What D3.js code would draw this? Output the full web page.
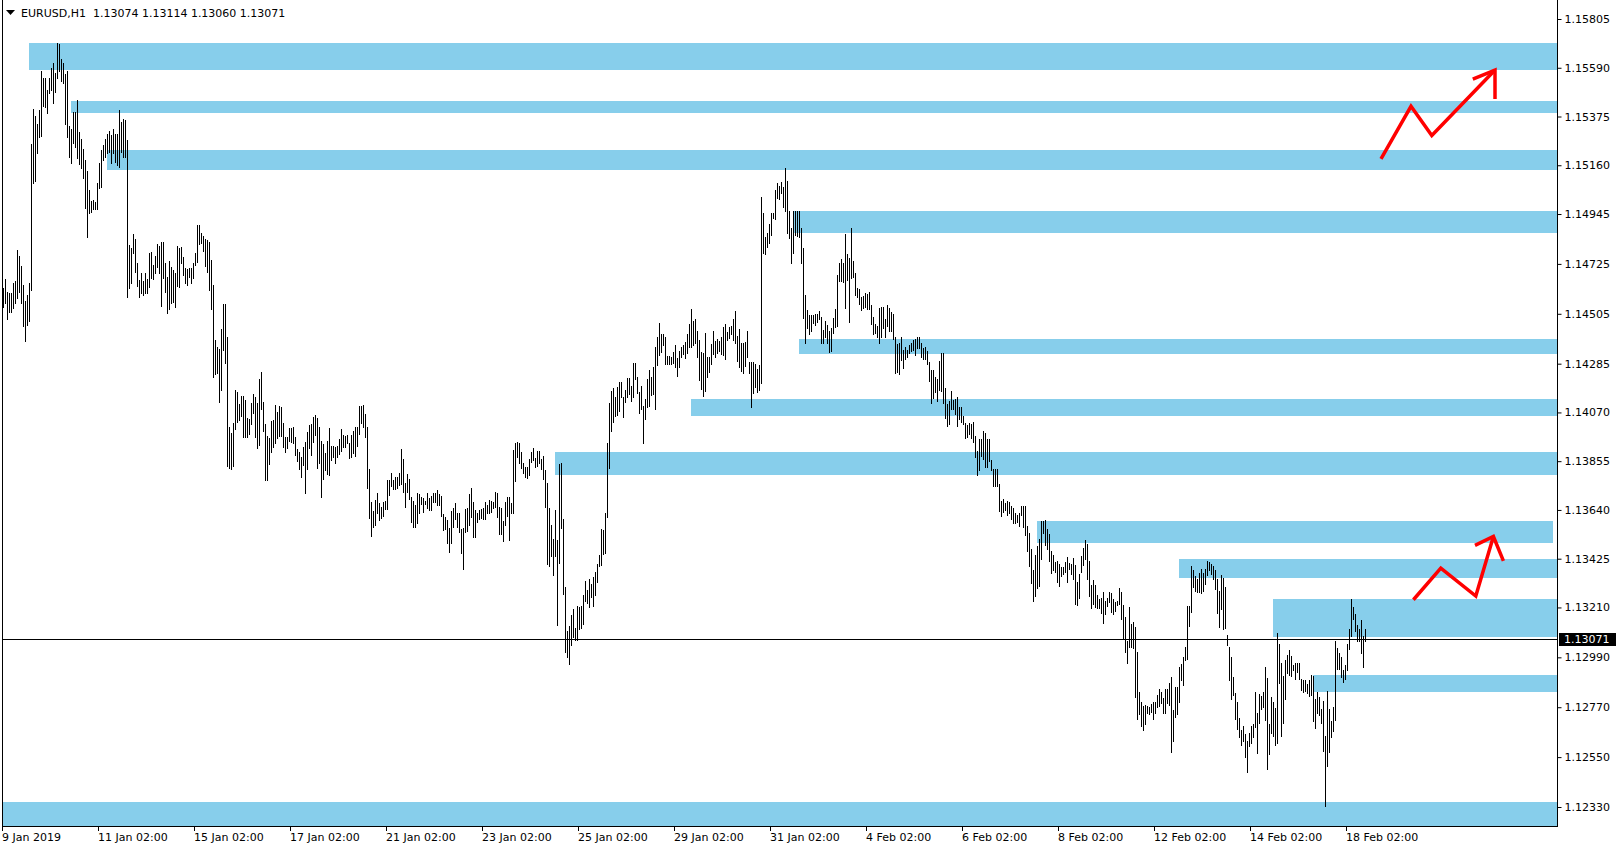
<!DOCTYPE html>
<html><head><meta charset="utf-8">
<script src="https://cdnjs.cloudflare.com/ajax/libs/d3/7.8.5/d3.min.js"></script>
<style>
html,body{margin:0;padding:0;background:#fff;}
svg{display:block;}
text{font-family:"DejaVu Sans",Verdana,sans-serif;font-size:11px;fill:#000;}
</style>
</head><body>
<svg id="chart" width="1621" height="850"></svg>
<script>
// ---------- data ----------
const symbolTitle = "EURUSD,H1";
const headerQuote = ["1.13074", "1.13114", "1.13060", "1.13071"];
const lastPrice = 1.13071;

const priceTicks = [1.15805, 1.15590, 1.15375, 1.15160, 1.14945, 1.14725, 1.14505, 1.14285,
  1.14070, 1.13855, 1.13640, 1.13425, 1.13210, 1.12990, 1.12770, 1.12550, 1.12330];

const timeTickIndex = [0, 48, 96, 144, 192, 240, 288, 336, 384, 432, 480, 528, 576, 624, 672];
const timeTickLabels = ["9 Jan 2019", "11 Jan 02:00", "15 Jan 02:00", "17 Jan 02:00", "21 Jan 02:00",
  "23 Jan 02:00", "25 Jan 02:00", "29 Jan 02:00", "31 Jan 02:00", "4 Feb 02:00", "6 Feb 02:00",
  "8 Feb 02:00", "12 Feb 02:00", "14 Feb 02:00", "18 Feb 02:00"];

// hourly bar highs / lows (one per H1 bar, oldest first)
const highs = [
1.14617,1.14657,1.14602,1.14595,1.14595,1.14639,1.14651,1.14786,1.14759,1.14715,
1.14632,1.14562,1.14587,1.14639,1.15253,1.15406,1.15377,1.15344,1.15403,1.15577,
1.15543,1.15547,1.15491,1.15547,1.15587,1.15609,1.15565,1.15697,1.15694,1.15627,
1.15609,1.15562,1.15577,1.15333,1.15322,1.15396,1.15396,1.15450,1.15308,1.15274,
1.15230,1.15183,1.15134,1.15053,1.15003,1.15009,1.14999,1.15080,1.15168,1.15227,
1.15249,1.15278,1.15300,1.15312,1.15293,1.15318,1.15300,1.15297,1.15403,1.15352,
1.15362,1.15359,1.15271,1.14808,1.14793,1.14856,1.14837,1.14727,1.14654,1.14687,
1.14651,1.14683,1.14657,1.14771,1.14777,1.14720,1.14759,1.14812,1.14804,1.14823,
1.14823,1.14730,1.14668,1.14739,1.14712,1.14698,1.14683,1.14804,1.14793,1.14798,
1.14756,1.14705,1.14701,1.14705,1.14709,1.14730,1.14774,1.14896,1.14896,1.14862,
1.14848,1.14833,1.14830,1.14823,1.14742,1.14632,1.14389,1.14360,1.14348,1.14436,
1.14548,1.14548,1.14404,1.14007,1.13980,1.14024,1.14171,1.14161,1.14107,1.14142,
1.14142,1.14124,1.14044,1.14039,1.14113,1.14151,1.14139,1.14110,1.14216,1.14250,
1.14117,1.14019,1.13966,1.13956,1.14034,1.14037,1.14103,1.14073,1.14098,1.14095,
1.14022,1.13963,1.13960,1.14000,1.14000,1.14004,1.13960,1.13907,1.13897,1.13875,
1.13919,1.13941,1.13985,1.14015,1.14019,1.14051,1.14059,1.14044,1.14007,1.13945,
1.13931,1.13890,1.13945,1.14000,1.13922,1.13922,1.13919,1.13922,1.13951,1.13995,
1.13970,1.13966,1.13970,1.13934,1.13970,1.13990,1.14007,1.14007,1.14098,1.14098,
1.14103,1.14063,1.14004,1.13819,1.13676,1.13637,1.13684,1.13716,1.13672,1.13654,
1.13676,1.13681,1.13772,1.13772,1.13801,1.13772,1.13784,1.13787,1.13801,1.13907,
1.13863,1.13757,1.13798,1.13775,1.13698,1.13681,1.13662,1.13713,1.13710,1.13698,
1.13691,1.13681,1.13713,1.13691,1.13701,1.13713,1.13716,1.13728,1.13710,1.13701,
1.13622,1.13610,1.13596,1.13559,1.13637,1.13647,1.13672,1.13628,1.13625,1.13554,
1.13559,1.13643,1.13647,1.13710,1.13735,1.13676,1.13640,1.13628,1.13640,1.13643,
1.13647,1.13676,1.13662,1.13684,1.13681,1.13676,1.13721,1.13716,1.13654,1.13647,
1.13593,1.13676,1.13696,1.13698,1.13672,1.13904,1.13934,1.13941,1.13934,1.13897,
1.13848,1.13831,1.13828,1.13863,1.13897,1.13912,1.13868,1.13901,1.13901,1.13863,
1.13878,1.13816,1.13760,1.13647,1.13573,1.13510,1.13639,1.13507,1.13842,1.13845,
1.13598,1.13298,1.13107,1.13128,1.13176,1.13201,1.13118,1.13216,1.13210,1.13216,
1.13265,1.13328,1.13287,1.13334,1.13313,1.13345,1.13368,1.13401,1.13441,1.13554,
1.13551,1.13628,1.13933,1.14110,1.14166,1.14176,1.14139,1.14180,1.14205,1.14205,
1.14139,1.14169,1.14220,1.14220,1.14186,1.14286,1.14286,1.14225,1.14161,1.14186,
1.14098,1.14128,1.14216,1.14257,1.14225,1.14272,1.14360,1.14404,1.14463,1.14416,
1.14416,1.14404,1.14319,1.14319,1.14316,1.14338,1.14367,1.14308,1.14342,1.14357,
1.14367,1.14382,1.14416,1.14460,1.14524,1.14474,1.14480,1.14430,1.14389,1.14338,
1.14330,1.14422,1.14316,1.14316,1.14372,1.14430,1.14386,1.14392,1.14386,1.14404,
1.14448,1.14460,1.14426,1.14445,1.14451,1.14480,1.14519,1.14407,1.14436,1.14377,
1.14374,1.14382,1.14430,1.14294,1.14294,1.14294,1.14283,1.14260,1.14279,1.15021,
1.14951,1.14845,1.14863,1.14901,1.14951,1.14951,1.15051,1.15083,1.15068,1.15087,
1.15062,1.15146,1.15092,1.14960,1.14882,1.14960,1.14960,1.14960,1.14960,1.14882,
1.14793,1.14588,1.14521,1.14499,1.14499,1.14499,1.14504,1.14504,1.14519,1.14490,
1.14434,1.14475,1.14456,1.14431,1.14441,1.14485,1.14525,1.14676,1.14731,1.14746,
1.14728,1.14857,1.14769,1.14750,1.14882,1.14740,1.14687,1.14618,1.14613,1.14581,
1.14584,1.14596,1.14593,1.14603,1.14544,1.14490,1.14460,1.14449,1.14529,1.14534,
1.14534,1.14481,1.14544,1.14529,1.14515,1.14504,1.14402,1.14372,1.14378,1.14402,
1.14346,1.14360,1.14346,1.14368,1.14378,1.14390,1.14393,1.14402,1.14402,1.14375,
1.14353,1.14360,1.14343,1.14294,1.14255,1.14257,1.14228,1.14216,1.14299,1.14331,
1.14334,1.14177,1.14108,1.14122,1.14166,1.14125,1.14128,1.14137,1.14093,1.14093,
1.14055,1.14025,1.14015,1.14022,1.14019,1.14030,1.13966,1.13902,1.13952,1.13952,
1.13990,1.13978,1.13952,1.13952,1.13861,1.13819,1.13819,1.13819,1.13755,1.13681,
1.13687,1.13672,1.13681,1.13677,1.13658,1.13647,1.13625,1.13618,1.13625,1.13658,
1.13658,1.13658,1.13570,1.13540,1.13467,1.13373,1.13442,1.13481,1.13511,1.13593,
1.13593,1.13596,1.13555,1.13534,1.13461,1.13442,1.13412,1.13417,1.13402,1.13390,
1.13387,1.13412,1.13431,1.13405,1.13402,1.13427,1.13398,1.13324,1.13358,1.13437,
1.13471,1.13508,1.13490,1.13417,1.13309,1.13329,1.13309,1.13265,1.13246,1.13251,
1.13280,1.13240,1.13251,1.13276,1.13273,1.13246,1.13232,1.13240,1.13295,1.13276,
1.13221,1.13167,1.13060,1.13211,1.13137,1.13148,1.13123,1.13015,1.12835,1.12791,
1.12776,1.12780,1.12776,1.12773,1.12785,1.12795,1.12791,1.12824,1.12849,1.12835,
1.12810,1.12849,1.12849,1.12879,1.12905,1.12758,1.12861,1.12861,1.12949,1.12961,
1.12993,1.13037,1.13217,1.13217,1.13393,1.13373,1.13349,1.13334,1.13361,1.13379,
1.13364,1.13379,1.13417,1.13412,1.13402,1.13393,1.13376,1.13334,1.13284,1.13354,
1.13339,1.13299,1.13089,1.13037,1.12990,1.12905,1.12832,1.12791,1.12721,1.12670,
1.12688,1.12652,1.12623,1.12655,1.12685,1.12696,1.12835,1.12746,1.12829,1.12820,
1.12835,1.12949,1.12898,1.12696,1.12814,1.12795,1.12766,1.13096,1.13049,1.12964,
1.12908,1.12979,1.13001,1.13023,1.12996,1.12957,1.12964,1.12964,1.12964,1.12893,
1.12888,1.12890,1.12873,1.12888,1.12913,1.12908,1.12805,1.12835,1.12817,1.12761,
1.12799,1.12641,1.12843,1.12761,1.12711,1.12770,1.13060,1.13030,1.13011,1.12990,
1.12935,1.12957,1.13049,1.13114,1.13246,1.13211,1.13182,1.13133,1.13114,1.13155,
1.13085,1.13114];

const lows = [
1.14536,1.14551,1.14480,1.14514,1.14514,1.14529,1.14554,1.14573,1.14602,1.14554,
1.14451,1.14386,1.14455,1.14474,1.14612,1.15083,1.15092,1.15212,1.15283,1.15289,
1.15421,1.15418,1.15389,1.15477,1.15494,1.15433,1.15484,1.15543,1.15577,1.15533,
1.15524,1.15344,1.15283,1.15195,1.15171,1.15256,1.15239,1.15190,1.15165,1.15146,
1.15102,1.14970,1.14845,1.14948,1.14955,1.14965,1.14965,1.14965,1.15058,1.15065,
1.15183,1.15197,1.15215,1.15220,1.15171,1.15212,1.15175,1.15161,1.15153,1.15220,
1.15197,1.15197,1.14577,1.14617,1.14642,1.14774,1.14690,1.14627,1.14580,1.14598,
1.14587,1.14595,1.14595,1.14624,1.14661,1.14657,1.14686,1.14712,1.14686,1.14539,
1.14661,1.14602,1.14507,1.14524,1.14551,1.14558,1.14533,1.14627,1.14624,1.14730,
1.14676,1.14642,1.14632,1.14668,1.14642,1.14665,1.14720,1.14734,1.14812,1.14818,
1.14783,1.14715,1.14690,1.14612,1.14524,1.14227,1.14239,1.14242,1.14117,1.14168,
1.14345,1.14286,1.13833,1.13827,1.13819,1.13833,1.13995,1.14029,1.14036,1.14054,
1.13963,1.13963,1.13960,1.13974,1.14021,1.14069,1.13963,1.13911,1.13926,1.14084,
1.13990,1.13772,1.13772,1.13843,1.13897,1.13916,1.13934,1.13956,1.13966,1.13966,
1.13916,1.13897,1.13912,1.13945,1.13941,1.13937,1.13882,1.13857,1.13819,1.13787,
1.13838,1.13713,1.13819,1.13912,1.13882,1.13941,1.13970,1.13823,1.13845,1.13698,
1.13775,1.13816,1.13798,1.13794,1.13860,1.13875,1.13848,1.13872,1.13887,1.13901,
1.13919,1.13916,1.13934,1.13868,1.13875,1.13890,1.13878,1.13922,1.13975,1.14025,
1.14007,1.13960,1.13735,1.13603,1.13525,1.13563,1.13574,1.13625,1.13596,1.13603,
1.13613,1.13643,1.13643,1.13706,1.13746,1.13731,1.13731,1.13735,1.13750,1.13754,
1.13721,1.13654,1.13721,1.13687,1.13588,1.13566,1.13566,1.13584,1.13628,1.13666,
1.13632,1.13666,1.13647,1.13640,1.13640,1.13676,1.13676,1.13662,1.13662,1.13613,
1.13551,1.13554,1.13493,1.13456,1.13496,1.13566,1.13599,1.13566,1.13544,1.13449,
1.13378,1.13544,1.13549,1.13574,1.13607,1.13519,1.13519,1.13588,1.13599,1.13603,
1.13599,1.13599,1.13628,1.13625,1.13632,1.13647,1.13654,1.13610,1.13534,1.13534,
1.13504,1.13574,1.13613,1.13507,1.13625,1.13625,1.13769,1.13872,1.13848,1.13823,
1.13801,1.13787,1.13779,1.13794,1.13853,1.13860,1.13828,1.13834,1.13848,1.13819,
1.13775,1.13651,1.13402,1.13393,1.13437,1.13353,1.13437,1.13132,1.13407,1.13559,
1.13269,1.13015,1.12990,1.12960,1.13044,1.13078,1.13066,1.13066,1.13113,1.13118,
1.13137,1.13240,1.13231,1.13210,1.13254,1.13216,1.13265,1.13323,1.13393,1.13397,
1.13445,1.13448,1.13610,1.13823,1.13989,1.14029,1.14054,1.14058,1.14078,1.14136,
1.14048,1.14117,1.14139,1.14151,1.14122,1.14136,1.14216,1.14157,1.14066,1.14083,
1.13936,1.14039,1.14095,1.14098,1.14147,1.14151,1.14083,1.14279,1.14323,1.14338,
1.14367,1.14283,1.14283,1.14283,1.14283,1.14289,1.14269,1.14230,1.14272,1.14316,
1.14327,1.14308,1.14333,1.14360,1.14360,1.14367,1.14374,1.14316,1.14213,1.14172,
1.14142,1.14166,1.14227,1.14250,1.14283,1.14327,1.14316,1.14330,1.14342,1.14327,
1.14323,1.14304,1.14389,1.14397,1.14416,1.14389,1.14374,1.14298,1.14269,1.14254,
1.14242,1.14275,1.14316,1.14245,1.14095,1.14154,1.14183,1.14161,1.14169,1.14198,
1.14774,1.14768,1.14798,1.14818,1.14852,1.14926,1.14921,1.15014,1.15010,1.15036,
1.14977,1.14960,1.14860,1.14838,1.14727,1.14774,1.14852,1.14848,1.14845,1.14730,
1.14485,1.14377,1.14441,1.14416,1.14430,1.14466,1.14455,1.14470,1.14480,1.14375,
1.14378,1.14402,1.14378,1.14338,1.14343,1.14422,1.14446,1.14449,1.14651,1.14651,
1.14643,1.14529,1.14654,1.14471,1.14662,1.14669,1.14588,1.14578,1.14549,1.14522,
1.14529,1.14534,1.14525,1.14525,1.14460,1.14416,1.14422,1.14402,1.14378,1.14402,
1.14441,1.14402,1.14452,1.14427,1.14427,1.14393,1.14246,1.14250,1.14240,1.14302,
1.14265,1.14305,1.14316,1.14331,1.14343,1.14346,1.14324,1.14353,1.14353,1.14316,
1.14305,1.14305,1.14284,1.14210,1.14113,1.14133,1.14162,1.14122,1.14169,1.14166,
1.14113,1.14044,1.14008,1.14019,1.14084,1.14084,1.14063,1.14008,1.14040,1.14030,
1.14019,1.13956,1.13961,1.13975,1.13956,1.13941,1.13872,1.13794,1.13816,1.13878,
1.13864,1.13828,1.13828,1.13858,1.13814,1.13746,1.13746,1.13746,1.13637,1.13614,
1.13633,1.13640,1.13618,1.13625,1.13599,1.13584,1.13584,1.13589,1.13570,1.13618,
1.13564,1.13530,1.13461,1.13393,1.13317,1.13240,1.13261,1.13295,1.13305,1.13423,
1.13537,1.13486,1.13467,1.13417,1.13364,1.13373,1.13368,1.13324,1.13305,1.13349,
1.13358,1.13368,1.13324,1.13378,1.13358,1.13334,1.13226,1.13221,1.13251,1.13368,
1.13398,1.13423,1.13334,1.13261,1.13207,1.13226,1.13214,1.13207,1.13207,1.13184,
1.13143,1.13182,1.13217,1.13232,1.13192,1.13182,1.13196,1.13221,1.13226,1.13158,
1.13074,1.13015,1.12964,1.13035,1.13035,1.13030,1.12817,1.12717,1.12741,1.12685,
1.12670,1.12696,1.12743,1.12741,1.12751,1.12717,1.12746,1.12773,1.12776,1.12788,
1.12746,1.12743,1.12788,1.12780,1.12574,1.12619,1.12726,1.12741,1.12795,1.12890,
1.12868,1.12979,1.12982,1.13126,1.13192,1.13299,1.13284,1.13276,1.13280,1.13273,
1.13284,1.13314,1.13354,1.13373,1.13358,1.13334,1.13290,1.13187,1.13123,1.13202,
1.13114,1.13118,1.13045,1.12890,1.12805,1.12824,1.12717,1.12673,1.12638,1.12604,
1.12623,1.12552,1.12486,1.12599,1.12611,1.12638,1.12682,1.12570,1.12702,1.12761,
1.12770,1.12714,1.12497,1.12564,1.12658,1.12644,1.12604,1.12611,1.12879,1.12641,
1.12702,1.12805,1.12923,1.12913,1.12908,1.12932,1.12893,1.12927,1.12893,1.12846,
1.12835,1.12843,1.12832,1.12820,1.12824,1.12711,1.12677,1.12743,1.12736,1.12699,
1.12579,1.12335,1.12511,1.12574,1.12638,1.12663,1.12714,1.12938,1.12938,1.12902,
1.12883,1.12893,1.12932,1.13026,1.13085,1.13158,1.13104,1.13060,1.13060,1.13011,
1.12946,1.13060];

// supply / demand zones: start bar, end bar (null = extends right), top price, bottom price
const zoneStart  = [13, 34, 52, 395, 398, 344, 276, 517, 588, 635, 655, -1];
const zoneEnd    = [null, null, null, null, null, null, null, 775, null, null, null, null];
const zoneTop    = [1.15699, 1.15443, 1.15227, 1.14958, 1.14394, 1.14129, 1.13895, 1.13591, 1.13424, 1.13247, 1.12912, 1.12352];
const zoneBottom = [1.15578, 1.15392, 1.15139, 1.14861, 1.14328, 1.14054, 1.13794, 1.13494, 1.13340, 1.13080, 1.12837, 1.12246];

// hand-drawn red arrows (bar index, price)
const arrowUpperBar   = [689, 704, 714.4, 746];
const arrowUpperPrice = [1.15188, 1.15420, 1.15291, 1.15580];
const arrowUpperHeadBar   = [734.9, 746, 746];
const arrowUpperHeadPrice = [1.15540, 1.15580, 1.15452];
const arrowLowerBar   = [705.2, 718.9, 736.4, 745.2];
const arrowLowerPrice = [1.13244, 1.13383, 1.13260, 1.13523];
const arrowLowerHeadBar   = [736, 745.2, 750.2];
const arrowLowerHeadPrice = [1.13484, 1.13523, 1.13415];

// ---------- layout ----------
const W = 1621, H = 850;
const plotLeft = 2, plotRight = 1557, plotTop = 0, plotBottom = 826;

const svg = d3.select("#chart");
svg.append("rect").attr("width", W).attr("height", H).attr("fill", "#fff");

const n = highs.length;
const x = d3.scaleLinear().domain([0, n - 1]).range([3, 3 + 2 * (n - 1)]);
const y = d3.scaleLinear().domain([1.12330, 1.15805]).range([807, 19]);

svg.append("defs").append("clipPath").attr("id", "plotClip")
  .append("rect").attr("x", plotLeft + 1).attr("y", plotTop)
  .attr("width", plotRight - plotLeft - 1).attr("height", plotBottom - plotTop);

const plot = svg.append("g").attr("clip-path", "url(#plotClip)");

// zones
const zoneIdx = d3.range(zoneStart.length);
plot.selectAll("rect.zone").data(zoneIdx).enter().append("rect")
  .attr("class", "zone")
  .attr("x", i => x(zoneStart[i]))
  .attr("width", i => (zoneEnd[i] === null ? plotRight + 10 : x(zoneEnd[i])) - x(zoneStart[i]))
  .attr("y", i => Math.round(y(zoneTop[i])))
  .attr("height", i => Math.round(y(zoneBottom[i])) - Math.round(y(zoneTop[i])))
  .attr("fill", "#87CEEB");

// last price line
const yLast = Math.round(y(lastPrice)) + 0.5;
plot.append("line").attr("x1", plotLeft).attr("x2", plotRight)
  .attr("y1", yLast).attr("y2", yLast).attr("stroke", "#000").attr("stroke-width", 1);

// bars
plot.selectAll("line.bar").data(d3.range(n)).enter().append("line")
  .attr("class", "bar")
  .attr("x1", i => x(i) + 0.5).attr("x2", i => x(i) + 0.5)
  .attr("y1", i => Math.round(y(highs[i])))
  .attr("y2", i => Math.max(Math.round(y(lows[i])), Math.round(y(highs[i])) + 1) + 1)
  .attr("stroke", "#000").attr("stroke-width", 1)
  .attr("shape-rendering", "crispEdges");

// red arrows
const arrowLine = d3.line().curve(d3.curveLinear);
function drawArrow(bars, prices, headBars, headPrices) {
  const pts = bars.map((b, k) => [x(b), y(prices[k])]);
  const head = headBars.map((b, k) => [x(b), y(headPrices[k])]);
  [pts, head].forEach(p => {
    plot.append("path").attr("d", arrowLine(p)).attr("fill", "none")
      .attr("stroke", "#ff0000").attr("stroke-width", 3.5)
      .attr("stroke-linejoin", "miter").attr("stroke-linecap", "butt");
  });
}
drawArrow(arrowUpperBar, arrowUpperPrice, arrowUpperHeadBar, arrowUpperHeadPrice);
drawArrow(arrowLowerBar, arrowLowerPrice, arrowLowerHeadBar, arrowLowerHeadPrice);

// frame
svg.append("line").attr("x1", plotLeft + 0.5).attr("x2", plotLeft + 0.5)
  .attr("y1", plotTop).attr("y2", plotBottom + 1).attr("stroke", "#000");
svg.append("line").attr("x1", plotRight + 0.5).attr("x2", plotRight + 0.5)
  .attr("y1", plotTop).attr("y2", plotBottom + 1).attr("stroke", "#000");
svg.append("line").attr("x1", plotLeft).attr("x2", plotRight + 1)
  .attr("y1", plotBottom + 0.5).attr("y2", plotBottom + 0.5).attr("stroke", "#000");

// right price axis
const yAxis = d3.axisRight(y).tickValues(priceTicks).tickSize(4).tickPadding(3)
  .tickFormat(d3.format(".5f"));
const gy = svg.append("g").attr("transform", `translate(${plotRight + 0.5},0)`).call(yAxis);
gy.select(".domain").remove();
gy.selectAll("line").attr("stroke", "#000");
gy.selectAll("text").attr("font-family", "DejaVu Sans, Verdana, sans-serif").attr("font-size", 11).attr("fill", "#000");

// last price label
const lastG = svg.append("g");
lastG.append("rect").attr("x", plotRight + 2).attr("y", yLast - 6.5).attr("width", 57).attr("height", 13).attr("fill", "#000");
lastG.append("text").attr("x", plotRight + 7).attr("y", yLast).attr("dy", "0.35em")
  .style("fill", "#fff").text(d3.format(".5f")(lastPrice));

// bottom time axis
const timeScale = d3.scaleOrdinal().domain(timeTickIndex).range(timeTickLabels);
const gx = svg.append("g");
gx.selectAll("line.tt").data(timeTickIndex).enter().append("line")
  .attr("x1", d => x(d) - 0.5).attr("x2", d => x(d) - 0.5)
  .attr("y1", plotBottom + 1).attr("y2", plotBottom + 5).attr("stroke", "#000");
gx.selectAll("text.tl").data(timeTickIndex).enter().append("text")
  .attr("x", d => x(d) - 1).attr("y", plotBottom + 15)
  .text(d => timeScale(d));

// header
svg.append("path").attr("d", "M6,10 L15,10 L10.5,15 Z").attr("fill", "#000");
svg.append("text").attr("x", 21).attr("y", 17).style("white-space", "pre")
  .text(symbolTitle + "  " + headerQuote.join(" "));
</script>
</body></html>
